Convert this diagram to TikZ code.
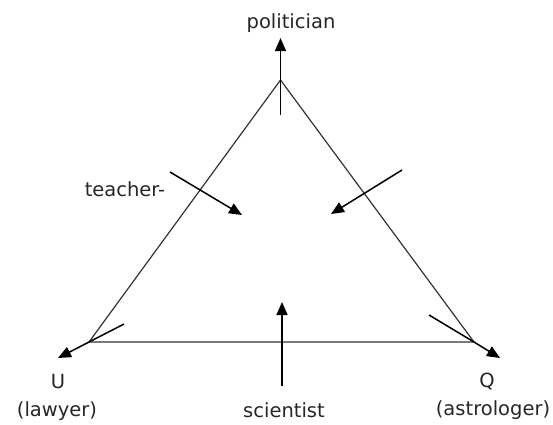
\documentclass[tikz,border=0pt]{standalone}
\usepackage{fontspec}
\setmainfont{DejaVu Sans}
\usetikzlibrary{arrows.meta}
\begin{document}
\begin{tikzpicture}[x=1pt,y=-1pt,
  lbl/.style={font=\fontsize{19.5}{23}\selectfont, text=black!85, inner sep=0pt, anchor=base},
  tri/.style={draw=black!80, line width=1.2pt},
  arr/.style={draw=black, line width=1.5pt, -{Triangle[length=13pt,width=11pt]}}]
\useasboundingbox (0,0) rectangle (553,424);
% triangle vertices
\coordinate (A) at (280.5,80);
\coordinate (L) at (89,342);
\coordinate (R) at (474,342);
\draw[tri] (A) -- (L) -- (R) -- cycle;
% labels
\node[lbl] (pol) at (291,28) {politician};
\node[lbl] (U) at (58,388) {U};
\node[lbl] (law) at (57,416) {(lawyer)};
\node[lbl] (Q) at (487,387) {Q};
\node[lbl] (ast) at (493,415) {(astrologer)};
\node[lbl] (tea) at (125,196) {teacher-};
\node[lbl] (sci) at (284,417) {scientist};
% arrow endpoints
\coordinate (p0) at (280.5,115);
\coordinate (p1) at (280.5,38);
\coordinate (u0) at (124,324);
\coordinate (u1) at (58,358);
\coordinate (q0) at (429,315);
\coordinate (q1) at (500,358);
\coordinate (t0) at (170,172);
\coordinate (t1) at (242,215);
\coordinate (r0) at (402,170);
\coordinate (r1) at (331,214);
\coordinate (s0) at (282,386);
\coordinate (s1) at (282,302);
\draw[arr] (p0) -- (p1);
\draw[arr] (u0) -- (L) -- (u1);
\draw[arr] (q0) -- (R) -- (q1);
\draw[arr] (t0) -- (t1);
\draw[arr] (r0) -- (r1);
\draw[arr] (s0) -- (s1);
\end{tikzpicture}
\end{document}
